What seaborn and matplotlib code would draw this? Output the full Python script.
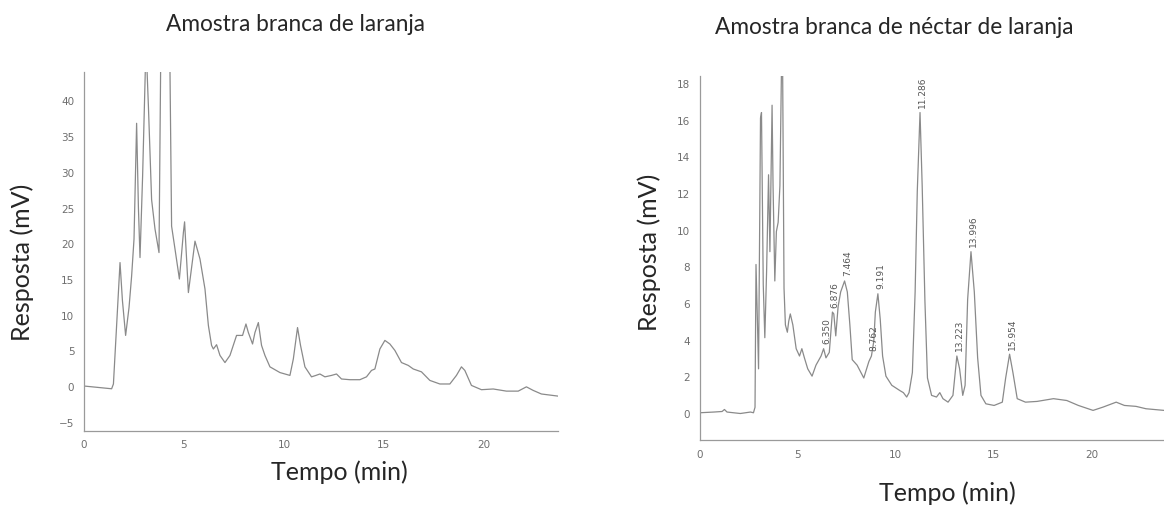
import numpy as np
import pandas as pd
import matplotlib
matplotlib.use("Agg")
import matplotlib.pyplot as plt
import seaborn as sns

# ---------------- data ----------------
# Left chromatogram: "Amostra branca de laranja"
left_time = [0.05, 1.38, 1.47, 1.62, 1.8, 1.92, 2.08, 2.25, 2.38, 2.5, 2.63, 2.72, 2.8, 2.93, 2.97,
             3.1, 3.22, 3.38, 3.55, 3.75, 3.83, 4.05, 4.3, 4.38, 4.55, 4.77, 4.97, 5.03, 5.22,
             5.55, 5.8, 6.05, 6.22, 6.38, 6.47, 6.63, 6.8, 7.05, 7.3, 7.63, 7.93, 8.1, 8.22,
             8.43, 8.55, 8.72, 8.88, 9.05, 9.3, 9.8, 10.3, 10.47, 10.68, 10.83, 11.05, 11.38,
             11.6, 11.8, 12.05, 12.38, 12.63, 12.88, 13.3, 13.8, 14.13, 14.38, 14.55, 14.8,
             15.05, 15.3, 15.55, 15.88, 16.22, 16.47, 16.88, 17.3, 17.8, 18.3, 18.63, 18.88,
             19.05, 19.38, 19.88, 20.47, 21.13, 21.72, 22.13, 22.47, 22.88, 23.72]
left_resp = [0.0, -0.37, 0.3, 8.0, 17.3, 12.0, 7.1, 11.0, 15.4, 20.6, 36.8, 25.0, 18.0, 29.4, 33.8,
             48.0, 39.2, 26.1, 22.0, 18.7, 44.0, 80.0, 44.0, 22.4, 19.2, 15.0, 21.5, 23.0, 13.1,
             20.3, 17.8, 13.6, 8.5, 5.7, 5.2, 5.8, 4.3, 3.3, 4.3, 7.1, 7.1, 8.7, 7.5,
             5.9, 7.5, 8.9, 5.7, 4.3, 2.7, 1.9, 1.5, 3.8, 8.2, 5.7, 2.7, 1.3,
             1.5, 1.7, 1.3, 1.5, 1.7, 1.0, 0.9, 0.9, 1.3, 2.2, 2.4, 5.2,
             6.4, 5.9, 5.0, 3.3, 2.9, 2.4, 2.0, 0.8, 0.3, 0.3, 1.5, 2.7,
             2.2, 0.1, -0.5, -0.4, -0.7, -0.7, -0.1, -0.6, -1.1, -1.4]

# Right chromatogram: "Amostra branca de néctar de laranja"
right_time = [0.0, 0.73, 1.15, 1.27, 1.4, 2.08, 2.6, 2.75, 2.83, 2.88, 2.95, 3.01, 3.11, 3.16,
              3.25, 3.33, 3.42, 3.52, 3.59, 3.7, 3.75, 3.84, 3.92, 4.01, 4.1, 4.22, 4.31,
              4.38, 4.48, 4.55, 4.63, 4.76, 4.93, 5.1, 5.22, 5.35, 5.52, 5.74, 5.94, 6.2,
              6.33, 6.45, 6.62, 6.78, 6.85, 6.95, 7.07, 7.2, 7.4, 7.54, 7.67, 7.79, 8.04,
              8.38, 8.64, 8.77, 8.89, 8.97, 9.1, 9.22, 9.34, 9.51, 9.81, 10.24, 10.4, 10.57,
              10.69, 10.86, 11.0, 11.11, 11.25, 11.36, 11.5, 11.63, 11.84, 12.09, 12.26,
              12.42, 12.68, 12.93, 13.13, 13.27, 13.43, 13.55, 13.68, 13.85, 14.02, 14.19,
              14.36, 14.61, 15.03, 15.45, 15.62, 15.82, 15.99, 16.21, 16.63, 17.22, 18.06,
              18.74, 19.33, 20.08, 20.59, 21.26, 21.68, 22.27, 22.78, 23.7]
right_resp = [0.0, 0.04, 0.07, 0.18, 0.04, -0.04, 0.04, 0.0, 0.3, 8.1, 5.1, 2.4, 16.1, 16.4,
              7.0, 4.1, 7.7, 13.0, 8.8, 16.8, 12.4, 7.2, 9.9, 10.4, 12.4, 22.0, 6.8,
              4.8, 4.4, 5.0, 5.4, 4.8, 3.5, 3.1, 3.5, 3.0, 2.4, 2.0, 2.6, 3.1,
              3.5, 3.0, 3.3, 5.5, 5.4, 4.2, 5.8, 6.6, 7.2, 6.6, 4.8, 2.9, 2.6,
              1.9, 2.8, 3.1, 3.9, 5.5, 6.5, 5.1, 3.1, 2.0, 1.5, 1.2, 1.1, 0.86,
              1.1, 2.2, 6.6, 12.1, 16.4, 12.4, 6.1, 1.9, 0.95, 0.86, 1.1,
              0.77, 0.58, 0.95, 3.1, 2.4, 0.95, 1.5, 6.2, 8.8, 6.6, 3.0,
              0.95, 0.49, 0.4, 0.58, 1.9, 3.2, 2.2, 0.77, 0.58, 0.62, 0.77,
              0.67, 0.4, 0.13, 0.31, 0.58, 0.4, 0.35, 0.22, 0.13]

# Peak annotations (retention times) on the right chromatogram
peak_labels = ["6.350", "6.876", "7.464", "8.762", "9.191", "11.286", "13.223", "13.996", "15.954"]
peak_x = [6.33, 6.78, 7.4, 8.77, 9.1, 11.25, 13.13, 13.85, 15.82]
peak_y = [3.5, 5.5, 7.2, 3.1, 6.5, 16.4, 3.1, 8.8, 3.2]

left_yticks = [-5, 0, 5, 10, 15, 20, 25, 30, 35, 40]
right_yticks = [0, 2, 4, 6, 8, 10, 12, 14, 16, 18]
xticks = [0, 5, 10, 15, 20]

titles = ["Amostra branca de laranja", "Amostra branca de néctar de laranja"]
xlabel = "Tempo (min)"
ylabel = "Resposta (mV)"

# ---------------- plot ----------------
sns.set_style("white")
plt.rcParams["font.family"] = ["DejaVu Sans"]

fig = plt.figure(figsize=(11.64, 5.06), dpi=100)
axL = fig.add_axes([0.0722, 0.146, 0.407, 0.710])
axR = fig.add_axes([0.601, 0.128, 0.399, 0.720])

line_col = "#8a8a8a"
tick_col = "#6e6e6e"

dfL = pd.DataFrame({"t": left_time, "r": left_resp})
dfR = pd.DataFrame({"t": right_time, "r": right_resp})
sns.lineplot(data=dfL, x="t", y="r", ax=axL, color=line_col, lw=0.9, estimator=None, sort=False)
sns.lineplot(data=dfR, x="t", y="r", ax=axR, color=line_col, lw=0.9, estimator=None, sort=False)

axL.set_xlim(0, 23.7)
axL.set_ylim(-6.3, 44)
axR.set_xlim(0, 23.7)
axR.set_ylim(-1.5, 18.4)

for ax, yt in ((axL, left_yticks), (axR, right_yticks)):
    ax.set_xticks(xticks)
    ax.set_yticks(yt)
    ax.set_xlabel("")
    ax.set_ylabel("")
    for s in ("top", "right"):
        ax.spines[s].set_visible(False)
    for s in ("left", "bottom"):
        ax.spines[s].set_color("#9a9a9a")
        ax.spines[s].set_linewidth(0.9)
    ax.tick_params(axis="both", labelsize=7.5, colors=tick_col, length=3, width=0.6,
                   direction="out", pad=4)
    ax.tick_params(axis="x", length=2)
    ax.set_facecolor("white")

for lab, px, py in zip(peak_labels, peak_x, peak_y):
    axR.annotate(lab, xy=(px, py), xytext=(2, 4), textcoords="offset points",
                 rotation=90, ha="center", va="bottom", fontsize=6.5, color="#555555")

tfont = ["Lato", "DejaVu Sans"]
fig.text(0.254, 0.951, titles[0], ha="center", va="center", fontsize=16.3, family=tfont)
fig.text(0.768, 0.945, titles[1], ha="center", va="center", fontsize=16.3, family=tfont)
fig.text(0.2915, 0.067, xlabel, ha="center", va="center", fontsize=18, family=tfont)
fig.text(0.8135, 0.026, xlabel, ha="center", va="center", fontsize=18, family=tfont)
fig.text(0.019, 0.482, ylabel, ha="center", va="center", rotation=90, fontsize=18, family=tfont)
fig.text(0.558, 0.502, ylabel, ha="center", va="center", rotation=90, fontsize=18, family=tfont)

fig.savefig("out.png", dpi=100, facecolor="white")
